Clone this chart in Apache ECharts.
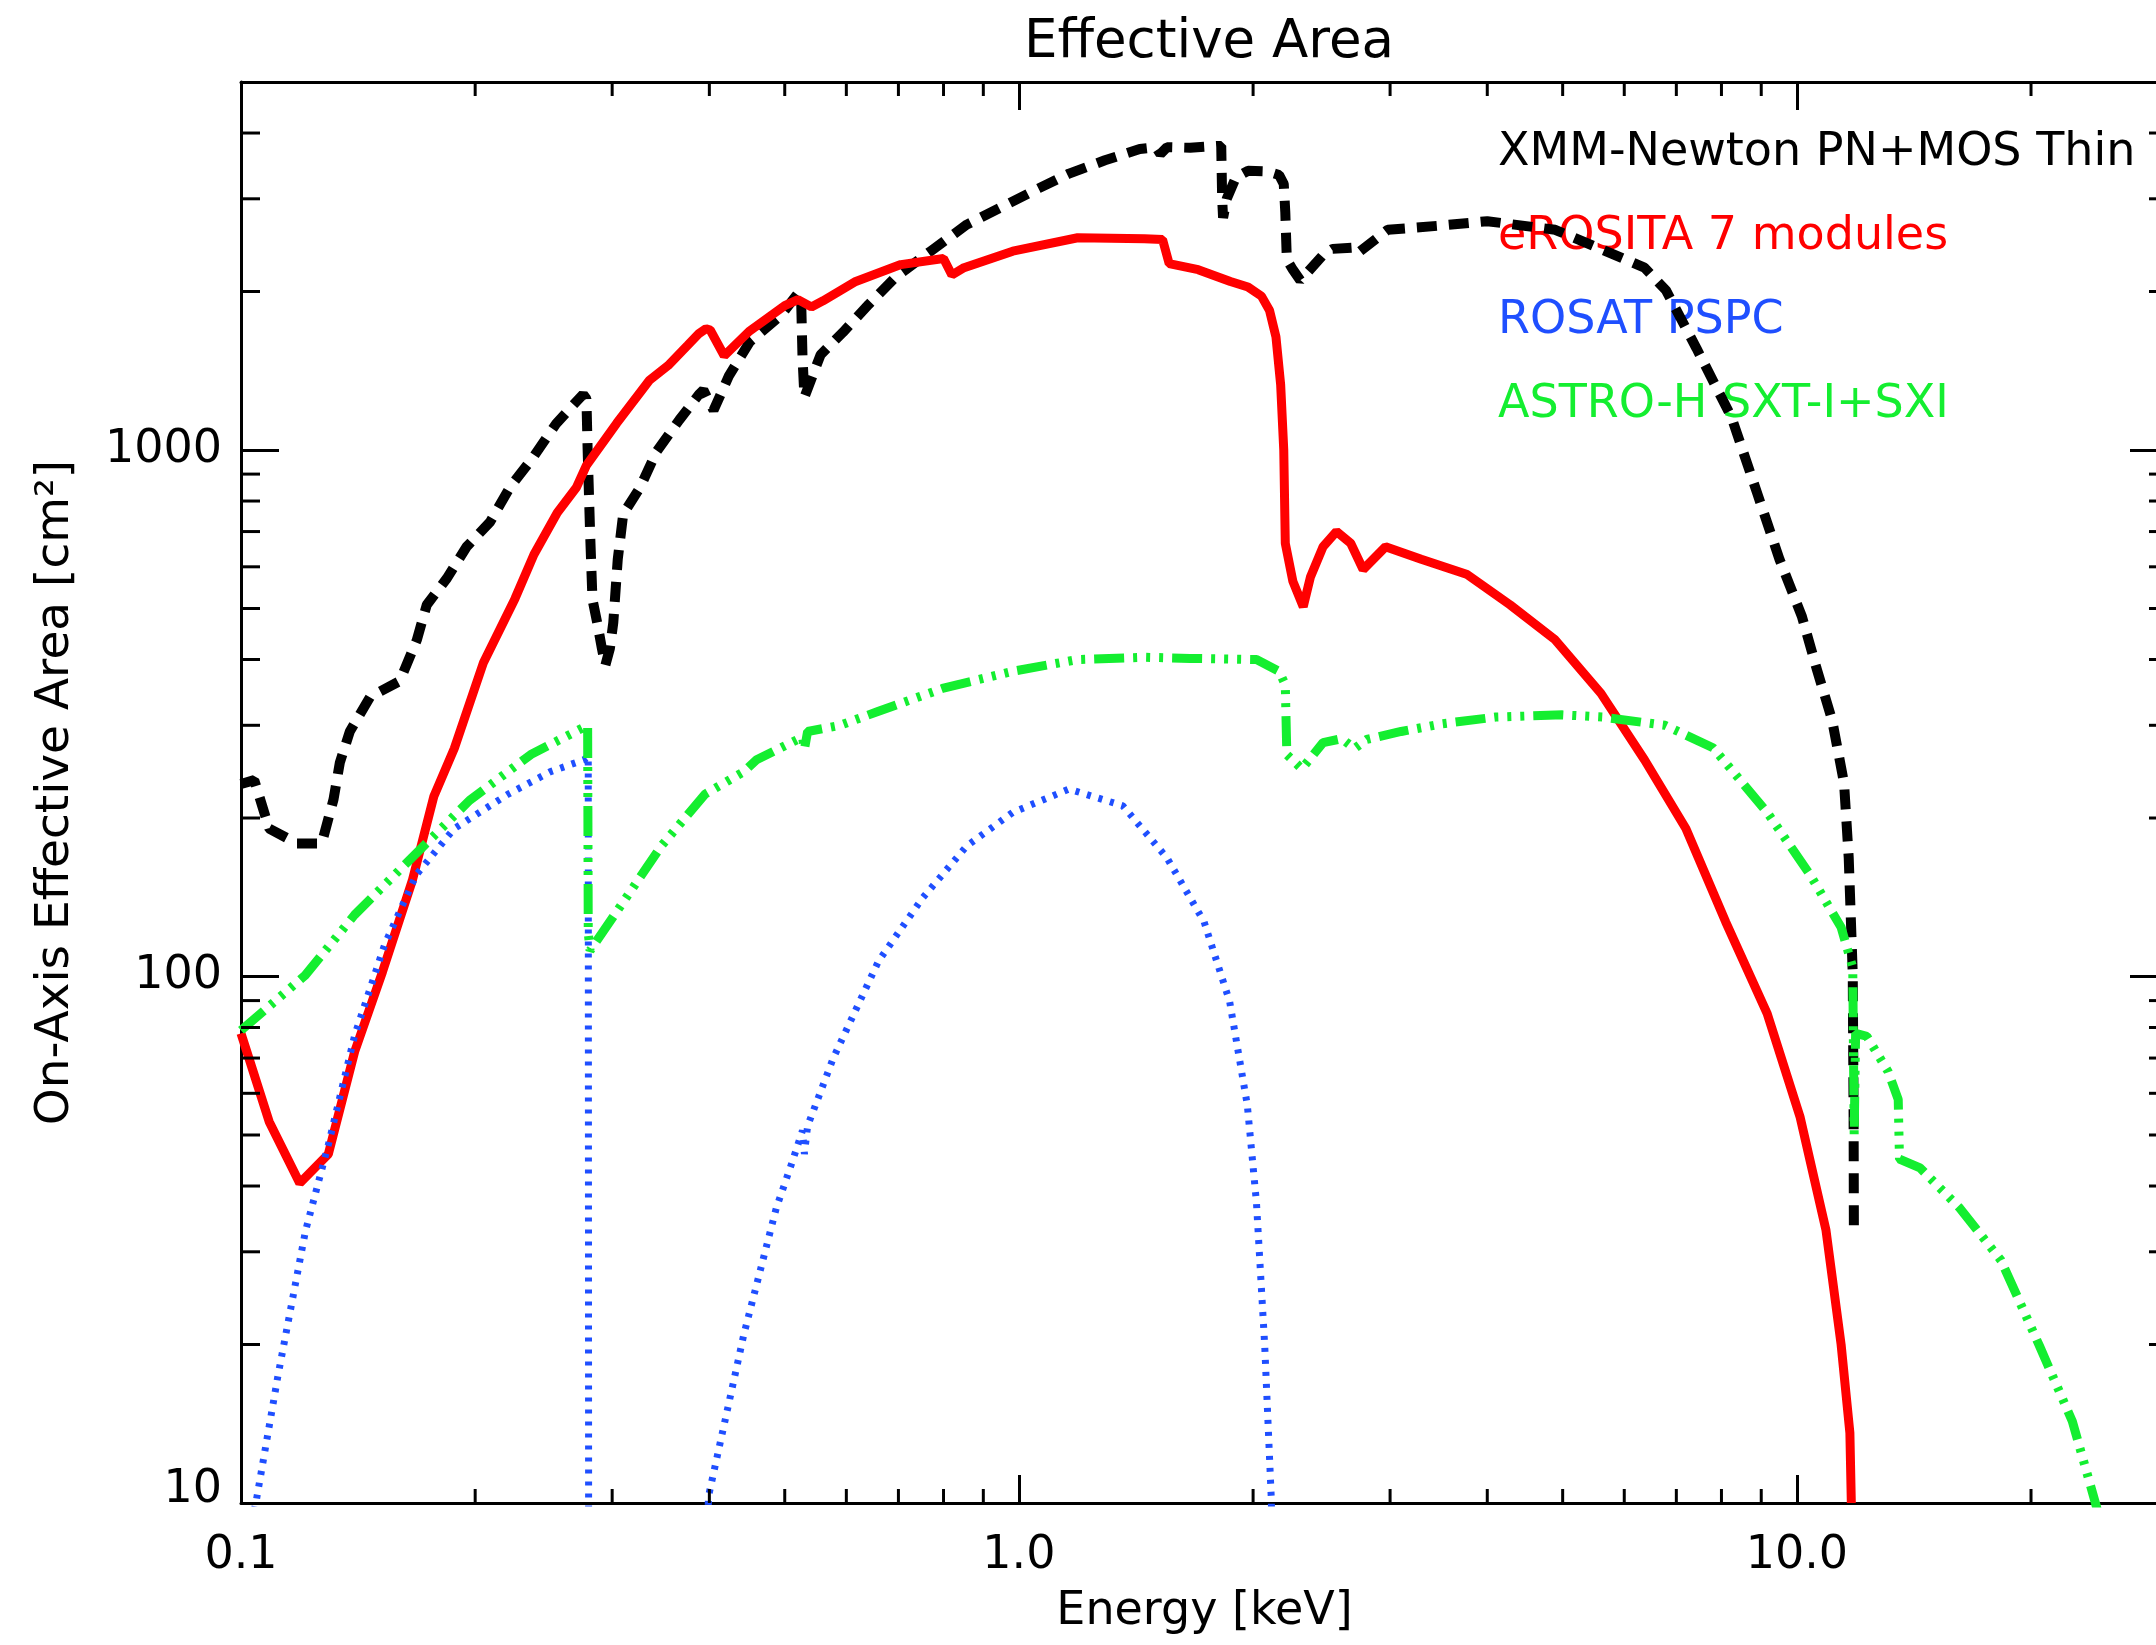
<!DOCTYPE html>
<html>
<head>
<meta charset="utf-8">
<title>Effective Area</title>
<script src="https://cdn.jsdelivr.net/npm/echarts@6/dist/echarts.min.js"></script>
<style>
  html, body { margin: 0; padding: 0; background: #fff; }
  #main { width: 2156px; height: 1645px; }
</style>
</head>
<body>
<div id="main"></div>
<script>
// effective area curves (energy in keV, area in cm^2)
const xmmEnergy = [0.1, 0.104, 0.1087, 0.118, 0.127, 0.1315, 0.134, 0.138, 0.1466, 0.16, 0.1683, 0.1733, 0.184, 0.195, 0.209, 0.2217, 0.2376, 0.2544, 0.2753, 0.278, 0.279, 0.281, 0.283, 0.287, 0.291, 0.294, 0.298, 0.301, 0.305, 0.31, 0.326, 0.342, 0.366, 0.388, 0.393, 0.405, 0.424, 0.451, 0.494, 0.52, 0.525, 0.527, 0.53, 0.556, 0.594, 0.641, 0.694, 0.77, 0.857, 0.957, 1.06, 1.16, 1.29, 1.43, 1.5, 1.52, 1.55, 1.66, 1.8, 1.82, 1.825, 1.83, 1.85, 1.9, 1.97, 2.09, 2.16, 2.19, 2.2, 2.21, 2.25, 2.3, 2.46, 2.53, 2.7, 2.73, 2.98, 3.5, 4.0, 4.89, 5.59, 6.37, 6.79, 7.43, 8.24, 8.9, 9.5, 10.15, 10.6, 11.1, 11.5, 11.66, 11.8, 11.83, 11.84];
const xmmArea = [232, 236, 191, 179, 179, 217, 255, 292, 340, 364, 436, 508, 571, 655, 730, 850, 970, 1124, 1276, 1250, 1000, 700, 520, 470, 420, 390, 420, 470, 620, 756, 850, 992, 1141, 1276, 1300, 1190, 1385, 1606, 1800, 1984, 1900, 1500, 1260, 1517, 1673, 1890, 2130, 2386, 2680, 2910, 3140, 3350, 3550, 3730, 3760, 3650, 3760, 3750, 3780, 3780, 3000, 2760, 3000, 3290, 3390, 3380, 3330, 3200, 2830, 2300, 2200, 2100, 2346, 2410, 2425, 2370, 2620, 2670, 2720, 2620, 2410, 2220, 2010, 1560, 1155, 825, 620, 483, 385, 307, 233, 168, 101, 54, 32];

const erositaEnergy = [0.1, 0.1087, 0.119, 0.1295, 0.14, 0.152, 0.166, 0.177, 0.188, 0.205, 0.225, 0.238, 0.255, 0.27, 0.278, 0.304, 0.335, 0.354, 0.375, 0.388, 0.396, 0.401, 0.418, 0.45, 0.5, 0.52, 0.541, 0.56, 0.617, 0.705, 0.8, 0.82, 0.85, 0.982, 1.19, 1.45, 1.53, 1.56, 1.7, 1.87, 1.97, 2.05, 2.1, 2.14, 2.17, 2.19, 2.2, 2.25, 2.32, 2.37, 2.46, 2.56, 2.67, 2.77, 2.96, 3.29, 3.77, 4.28, 4.89, 5.6, 6.37, 7.2, 8.1, 9.16, 10.1, 10.9, 11.4, 11.7, 11.75];
const erositaArea = [78, 53, 40.5, 46, 72, 102, 152, 220, 271, 395, 522, 633, 760, 850, 935, 1124, 1357, 1447, 1580, 1665, 1700, 1690, 1510, 1680, 1880, 1930, 1870, 1920, 2090, 2250, 2310, 2150, 2220, 2386, 2530, 2520, 2510, 2260, 2200, 2090, 2040, 1960, 1840, 1640, 1330, 1000, 665, 563, 504, 574, 655, 700, 665, 593, 655, 620, 580, 508, 436, 345, 258, 191, 127, 85, 54, 33, 20, 13.6, 10];

const rosatEnergy = [0.1, 0.1045, 0.1116, 0.121, 0.1295, 0.14, 0.153, 0.168, 0.188, 0.2205, 0.25, 0.276, 0.2795, 0.28, 0.38, 0.399, 0.443, 0.4876, 0.51, 0.527, 0.53, 0.535, 0.577, 0.66, 0.752, 0.857, 0.982, 1.16, 1.36, 1.55, 1.73, 1.866, 1.966, 2.02, 2.07, 2.11, 2.13];
const rosatArea = [7.5, 10, 17.5, 32.8, 47.9, 77.3, 115, 156, 191, 222, 245, 258, 262, 1, 1, 10.3, 20.9, 36.3, 44, 51, 46, 52, 69.9, 107, 141, 177, 205, 227, 211, 168, 127, 89.6, 57, 37.2, 19.9, 10.3, 6];

const astroEnergy = [0.1, 0.1209, 0.14, 0.1717, 0.1967, 0.2358, 0.279, 0.2795, 0.281, 0.3095, 0.347, 0.395, 0.443, 0.46, 0.527, 0.53, 0.535, 0.589, 0.66, 0.8, 0.982, 1.19, 1.45, 1.66, 2.02, 2.16, 2.2, 2.21, 2.31, 2.46, 2.6, 2.7, 2.8, 3.1, 3.5, 4.1, 5.0, 5.63, 6.77, 7.8, 9.16, 10.4, 11.4, 11.8, 11.85, 11.9, 12.3, 13.1, 13.5, 13.55, 14.4, 16.2, 18.3, 20.5, 22.6, 24.2, 25];
const astroArea = [79, 100.5, 131, 177, 216, 264, 300, 121, 112, 138, 177, 222, 245, 258, 285, 270, 292, 300, 319, 353, 380, 400, 404, 402, 400, 380, 358, 264, 248, 278, 283, 271, 282, 292, 302, 311, 314, 311, 300, 272, 205, 156, 124, 104, 50, 78, 77, 66, 58.4, 45, 43.3, 36.3, 28.9, 19.9, 14.3, 10, 8.4];

const seriesNames = ['XMM-Newton PN+MOS Thin', 'eROSITA 7 modules', 'ROSAT PSPC', 'ASTRO-H SXT-I+SXI'];
const seriesColors = ['#000000', '#ff0000', '#1f4fff', '#14ee30'];

const xTickValues = [0.1, 1, 10];
const xTickLabels = ['0.1', '1.0', '10.0'];
const yTickValues = [10, 100, 1000];
const yTickLabels = ['10', '100', '1000'];
const xMinorTicks = [0.2, 0.3, 0.4, 0.5, 0.6, 0.7, 0.8, 0.9, 2, 3, 4, 5, 6, 7, 8, 9, 20];
const yMinorTicks = [20, 30, 40, 50, 60, 70, 80, 90, 200, 300, 400, 500, 600, 700, 800, 900, 2000, 3000, 4000];

const font = 'DejaVu Sans';

function pairs(xs, ys) {
    return xs.map((x, i) => [x, ys[i]]);
}

function tickLabel(values, labels, v) {
    for (let i = 0; i < values.length; i++) {
        if (Math.abs(values[i] - v) / values[i] < 1e-6) return labels[i];
    }
    return '';
}

function tickLine(x1, y1, x2, y2) {
    return { type: 'line', shape: { x1: x1, y1: y1, x2: x2, y2: y2 }, style: { stroke: '#000', lineWidth: 3 } };
}

// minor ticks on top and bottom
function renderXMinor(params, api) {
    const cs = params.coordSys;
    const x = api.coord([api.value(0), api.value(1)])[0];
    const bottom = cs.y + cs.height;
    return { type: 'group', children: [tickLine(x, bottom, x, bottom - 14), tickLine(x, cs.y, x, cs.y + 14)] };
}

// minor ticks on left and right
function renderYMinor(params, api) {
    const cs = params.coordSys;
    const y = api.coord([api.value(0), api.value(1)])[1];
    const right = cs.x + cs.width;
    return { type: 'group', children: [tickLine(cs.x, y, cs.x + 19, y), tickLine(right, y, right - 19, y)] };
}

const axisLine = { show: true, lineStyle: { color: '#000', width: 3 } };

let options = {
    animation: false,
    backgroundColor: '#fff',
    title: {
        text: 'Effective Area',
        left: 1204,
        top: 12,
        textAlign: 'center',
        textStyle: { fontFamily: font, fontSize: 53, fontWeight: 'normal', color: '#000' }
    },
    legend: {
        orient: 'vertical',
        left: 1488,
        top: 125,
        z: 1,
        icon: 'none',
        itemWidth: 0,
        itemHeight: 46,
        itemGap: 38,
        selectedMode: false,
        textStyle: { fontFamily: font, fontSize: 46, lineHeight: 46 },
        data: seriesNames.map((n, i) => ({ name: n, textStyle: { color: seriesColors[i] } }))
    },
    grid: { left: 241, right: -12, top: 82, bottom: 142, containLabel: false, outerBoundsMode: 'none' },
    xAxis: [{
        type: 'log',
        min: 0.1,
        max: 30,
        position: 'bottom',
        name: 'Energy [keV]',
        nameLocation: 'middle',
        nameGap: 86,
        nameTextStyle: { fontFamily: font, fontSize: 46, color: '#000' },
        axisLine: axisLine,
        axisTick: { inside: true, length: 28, lineStyle: { color: '#000', width: 3 } },
        axisLabel: {
            margin: 30,
            fontFamily: font,
            fontSize: 46,
            color: '#000',
            formatter: v => tickLabel(xTickValues, xTickLabels, v)
        },
        splitLine: { show: false }
    }, {
        type: 'log',
        min: 0.1,
        max: 30,
        position: 'top',
        axisLine: axisLine,
        axisTick: { inside: true, length: 28, lineStyle: { color: '#000', width: 3 } },
        axisLabel: { show: false },
        splitLine: { show: false }
    }],
    yAxis: [{
        type: 'log',
        min: 10,
        max: 5000,
        position: 'left',
        name: 'On-Axis Effective Area [cm²]',
        nameLocation: 'middle',
        nameGap: 162,
        nameRotate: 90,
        nameTextStyle: { fontFamily: font, fontSize: 47, color: '#000' },
        axisLine: axisLine,
        axisTick: { inside: true, length: 38, lineStyle: { color: '#000', width: 3 } },
        axisLabel: {
            margin: 19,
            fontFamily: font,
            fontSize: 46,
            color: '#000',
            formatter: v => {
                const s = tickLabel(yTickValues, yTickLabels, v);
                return s === yTickLabels[0] ? '{low|' + s + '}' : s;
            },
            rich: { low: { fontFamily: font, fontSize: 46, color: '#000', padding: [0, 0, 26, 0] } }
        },
        splitLine: { show: false }
    }, {
        type: 'log',
        min: 10,
        max: 5000,
        position: 'right',
        axisLine: axisLine,
        axisTick: { inside: true, length: 38, lineStyle: { color: '#000', width: 3 } },
        axisLabel: { show: false },
        splitLine: { show: false }
    }],
    series: [{
        name: seriesNames[0],
        type: 'line',
        showSymbol: false,
        data: pairs(xmmEnergy, xmmArea),
        lineStyle: { color: seriesColors[0], width: 10, type: [20, 12] }
    }, {
        name: seriesNames[1],
        type: 'line',
        showSymbol: false,
        data: pairs(erositaEnergy, erositaArea),
        lineStyle: { color: seriesColors[1], width: 9, type: 'solid' }
    }, {
        name: seriesNames[2],
        type: 'line',
        showSymbol: false,
        data: pairs(rosatEnergy, rosatArea),
        lineStyle: { color: seriesColors[2], width: 7, type: [4, 8] }
    }, {
        name: seriesNames[3],
        type: 'line',
        showSymbol: false,
        data: pairs(astroEnergy, astroArea),
        lineStyle: { color: seriesColors[3], width: 9, type: [30, 9, 4, 9, 4, 9, 4, 9] }
    }, {
        name: 'xMinor',
        type: 'custom',
        renderItem: renderXMinor,
        data: xMinorTicks.map(v => [v, 100]),
        silent: true,
        z: 5
    }, {
        name: 'yMinor',
        type: 'custom',
        renderItem: renderYMinor,
        data: yMinorTicks.map(v => [1, v]),
        silent: true,
        z: 5
    }]
};

let myChart = echarts.init(document.getElementById('main'));
myChart.setOption(options);
</script>
</body>
</html>
